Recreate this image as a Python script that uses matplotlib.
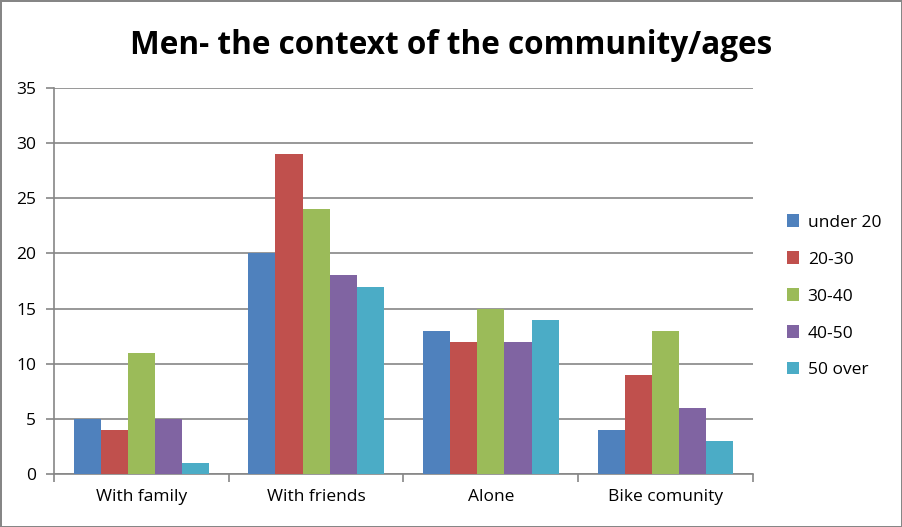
import numpy as np
import matplotlib.pyplot as plt

categories = ['With family', 'With friends', 'Alone', 'Bike comunity']
series = ['under 20', '20-30', '30-40', '40-50', '50 over']
under20 = [5, 20, 13, 4]
age20_30 = [4, 29, 12, 9]
age30_40 = [11, 24, 15, 13]
age40_50 = [5, 18, 12, 6]
over50 = [1, 17, 14, 3]
values = [under20, age20_30, age30_40, age40_50, over50]
colors = ['#4F81BD', '#C0504D', '#9BBB59', '#8064A2', '#4BACC6']

plt.rcParams['font.family'] = ['Open Sans', 'DejaVu Sans']

fig = plt.figure(figsize=(9.02, 5.27), dpi=100)
fig.patch.set_edgecolor('#868686')
fig.patch.set_linewidth(2)
ax = fig.add_axes([54 / 902, 1 - 474 / 527, 699 / 902, 386 / 527])

x = np.arange(len(categories))
w = 0.155
for i, (name, vals) in enumerate(zip(series, values)):
    ax.bar(x + (i - 2) * w, vals, width=w, color=colors[i], label=name, zorder=3)

ax.set_xlim(-0.5, len(categories) - 0.5)
ax.set_ylim(0, 35)
ax.set_yticks(range(0, 36, 5))
ax.grid(axis='y', color='#868686', linewidth=1.2, zorder=0)
ax.set_xticks(x)
ax.set_xticklabels(categories, fontsize=12.5)
ax.set_xticks(np.arange(-0.5, len(categories)), minor=True)
ax.tick_params(axis='x', which='major', length=0, pad=11)
ax.tick_params(axis='x', which='minor', length=6, color='#868686', width=1.2)
ax.tick_params(axis='y', length=6, color='#868686', width=1.2, labelsize=12.5, pad=7)
for s in ['top', 'right']:
    ax.spines[s].set_visible(False)
for s in ['left', 'bottom']:
    ax.spines[s].set_color('#868686')
    ax.spines[s].set_linewidth(1.2)

fig.text(0.5, 1 - 46 / 527, 'Men- the context of the community/ages', ha='center', va='center',
         fontsize=22.7, fontweight='bold')

ax.legend(loc='center left', bbox_to_anchor=(1.026, 0.46), frameon=False, fontsize=12.5,
          handlelength=0.7, handleheight=0.7, labelspacing=1.2, handletextpad=0.5)

fig.savefig('out.png', dpi=100, edgecolor=fig.get_edgecolor())
